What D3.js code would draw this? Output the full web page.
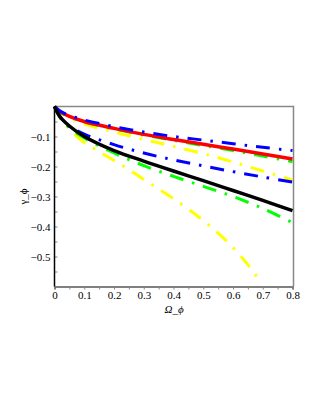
<!DOCTYPE html>
<html>
<head>
<meta charset="utf-8">
<script src="https://cdn.jsdelivr.net/npm/d3@7"></script>
<style>
	body { margin: 0; background: #fff; }
	text { font-family: "Liberation Serif", "DejaVu Serif", serif; }
</style>
</head>
<body>
<script>
// sizes of the picture and the plot box inside it
var w = 323, h = 418,
	x0 = 54.5, x1 = 293.5,
	y0 = 106.5, y1 = 286.5;

// values, Omega_phi on x, gamma_phi on y
var omega = [0, 0.02, 0.05, 0.1, 0.2, 0.3, 0.4, 0.5, 0.6, 0.7, 0.8];
var redSolid    = [0, -0.018, -0.033, -0.05, -0.073, -0.093, -0.11, -0.126, -0.142, -0.158, -0.175];
var blueUpper   = [0, -0.016, -0.03, -0.045, -0.067, -0.085, -0.1, -0.112, -0.124, -0.136, -0.147];
var greenUpper  = [0, -0.019, -0.034, -0.051, -0.074, -0.095, -0.113, -0.13, -0.147, -0.165, -0.184];
var yellowUpper = [0, -0.02, -0.036, -0.058, -0.085, -0.11, -0.133, -0.157, -0.185, -0.215, -0.245];
var blueLower   = [0, -0.038, -0.066, -0.092, -0.127, -0.155, -0.178, -0.198, -0.217, -0.235, -0.252];
var blackSolid  = [0, -0.036, -0.065, -0.1, -0.147, -0.182, -0.215, -0.247, -0.28, -0.313, -0.347];
var greenLower  = [0, -0.038, -0.07, -0.105, -0.155, -0.197, -0.233, -0.266, -0.3, -0.34, -0.387];

// the steep yellow one stops before the end of the axis
var omegaSteep  = [0, 0.02, 0.05, 0.1, 0.15, 0.2, 0.25, 0.3, 0.35, 0.4, 0.45, 0.5, 0.55, 0.6, 0.65, 0.688];
var yellowLower = [0, -0.04, -0.075, -0.12, -0.15, -0.18, -0.21, -0.243, -0.275, -0.307, -0.342, -0.38, -0.422, -0.47, -0.527, -0.578];

var xTicks = [0, 0.1, 0.2, 0.3, 0.4, 0.5, 0.6, 0.7, 0.8];
var yTicks = [-0.1, -0.2, -0.3, -0.4, -0.5];

var x = d3.scaleLinear().domain([0, 0.8]).range([x0, x1 - 1]);
var y = d3.scaleLinear().domain([-0.6, 0]).range([y1, y0]);

var svg = d3.select('body').append('svg')
	.attr('width', w)
	.attr('height', h);

svg.append('rect')
	.attr('width', w)
	.attr('height', h)
	.attr('fill', '#fff');

// grey frame on top and right
svg.append('path')
	.attr('d', 'M' + x0 + ',' + y0 + 'H' + x1 + 'V' + y1)
	.attr('fill', 'none')
	.attr('stroke', '#888')
	.attr('stroke-width', 1.5);

var dashDot = '14,9,2.5,9';

// drawing order: the later ones sit on top
var series = [
	{ xs: omegaSteep, ys: yellowLower, color: '#ffff00', dash: dashDot, width: 3 },
	{ xs: omega, ys: yellowUpper, color: '#ffff00', dash: dashDot, width: 3 },
	{ xs: omega, ys: greenLower, color: '#00ff00', dash: dashDot, width: 3 },
	{ xs: omega, ys: greenUpper, color: '#00ff00', dash: dashDot, width: 3 },
	{ xs: omega, ys: redSolid, color: '#ff0000', dash: null, width: 3.5 },
	{ xs: omega, ys: blueLower, color: '#0000ff', dash: dashDot, width: 3 },
	{ xs: omega, ys: blueUpper, color: '#0000ff', dash: dashDot, width: 3 },
	{ xs: omega, ys: blackSolid, color: '#000', dash: null, width: 3.5 }
];

var line = d3.line()
	.x(function(d) { return x(d[0]); })
	.y(function(d) { return y(d[1]); })
	.curve(d3.curveCatmullRom.alpha(0.5));

svg.selectAll('.curve')
	.data(series)
	.enter().append('path')
		.attr('class', 'curve')
		.attr('d', function(s) {
			return line(s.xs.map(function(v, i) { return [v, s.ys[i]]; }));
		})
		.attr('fill', 'none')
		.attr('stroke', function(s) { return s.color; })
		.attr('stroke-width', function(s) { return s.width; })
		.attr('stroke-dasharray', function(s) { return s.dash; });

// bottom axis, small ticks every 0.05
var xAxis = d3.axisBottom(x)
	.tickValues(d3.range(0, 0.801, 0.05))
	.tickSize(3)
	.tickFormat(function(d) {
		var r = Math.round(d * 100) / 100;
		return xTicks.indexOf(r) >= 0 ? d3.format('')(r) : '';
	});

var gx = svg.append('g')
	.attr('transform', 'translate(0,' + y1 + ')')
	.call(xAxis);
gx.select('.domain').attr('stroke', '#555').attr('stroke-width', 1.5);
gx.selectAll('.tick line').attr('stroke', '#888');
gx.selectAll('text')
	.attr('font-size', 11)
	.attr('font-family', 'Liberation Serif')
	.attr('fill', '#000')
	.attr('dy', '0.55em');

// left axis, ticks pointing inward
var yAxis = d3.axisLeft(y)
	.tickValues(d3.range(-0.55, -0.04, 0.05))
	.tickSize(-3)
	.tickPadding(5)
	.tickFormat(function(d) {
		var r = Math.round(d * 100) / 100;
		return yTicks.indexOf(r) >= 0 ? '\u2212' + Math.abs(r) : '';
	});

var gy = svg.append('g')
	.attr('transform', 'translate(' + x0 + ',0)')
	.call(yAxis);
gy.select('.domain').remove();
gy.append('line')
	.attr('y1', y0).attr('y2', y1)
	.attr('stroke', '#000')
	.attr('stroke-width', 1.5);
gy.selectAll('.tick line').attr('stroke', '#888');
gy.selectAll('text')
	.attr('font-size', 11)
	.attr('font-family', 'Liberation Serif')
	.attr('fill', '#000')
	.attr('x', -4);

// axis titles
svg.append('text')
	.attr('x', (x0 + x1) / 2)
	.attr('y', 313)
	.attr('text-anchor', 'middle')
	.attr('font-size', 11)
	.attr('font-style', 'italic')
	.text('Ω_ϕ');

svg.append('text')
	.attr('transform', 'translate(27,' + ((y0 + y1) / 2) + ')rotate(-90)')
	.attr('text-anchor', 'middle')
	.attr('font-size', 11)
	.text('γ_ϕ');
</script>
</body>
</html>
